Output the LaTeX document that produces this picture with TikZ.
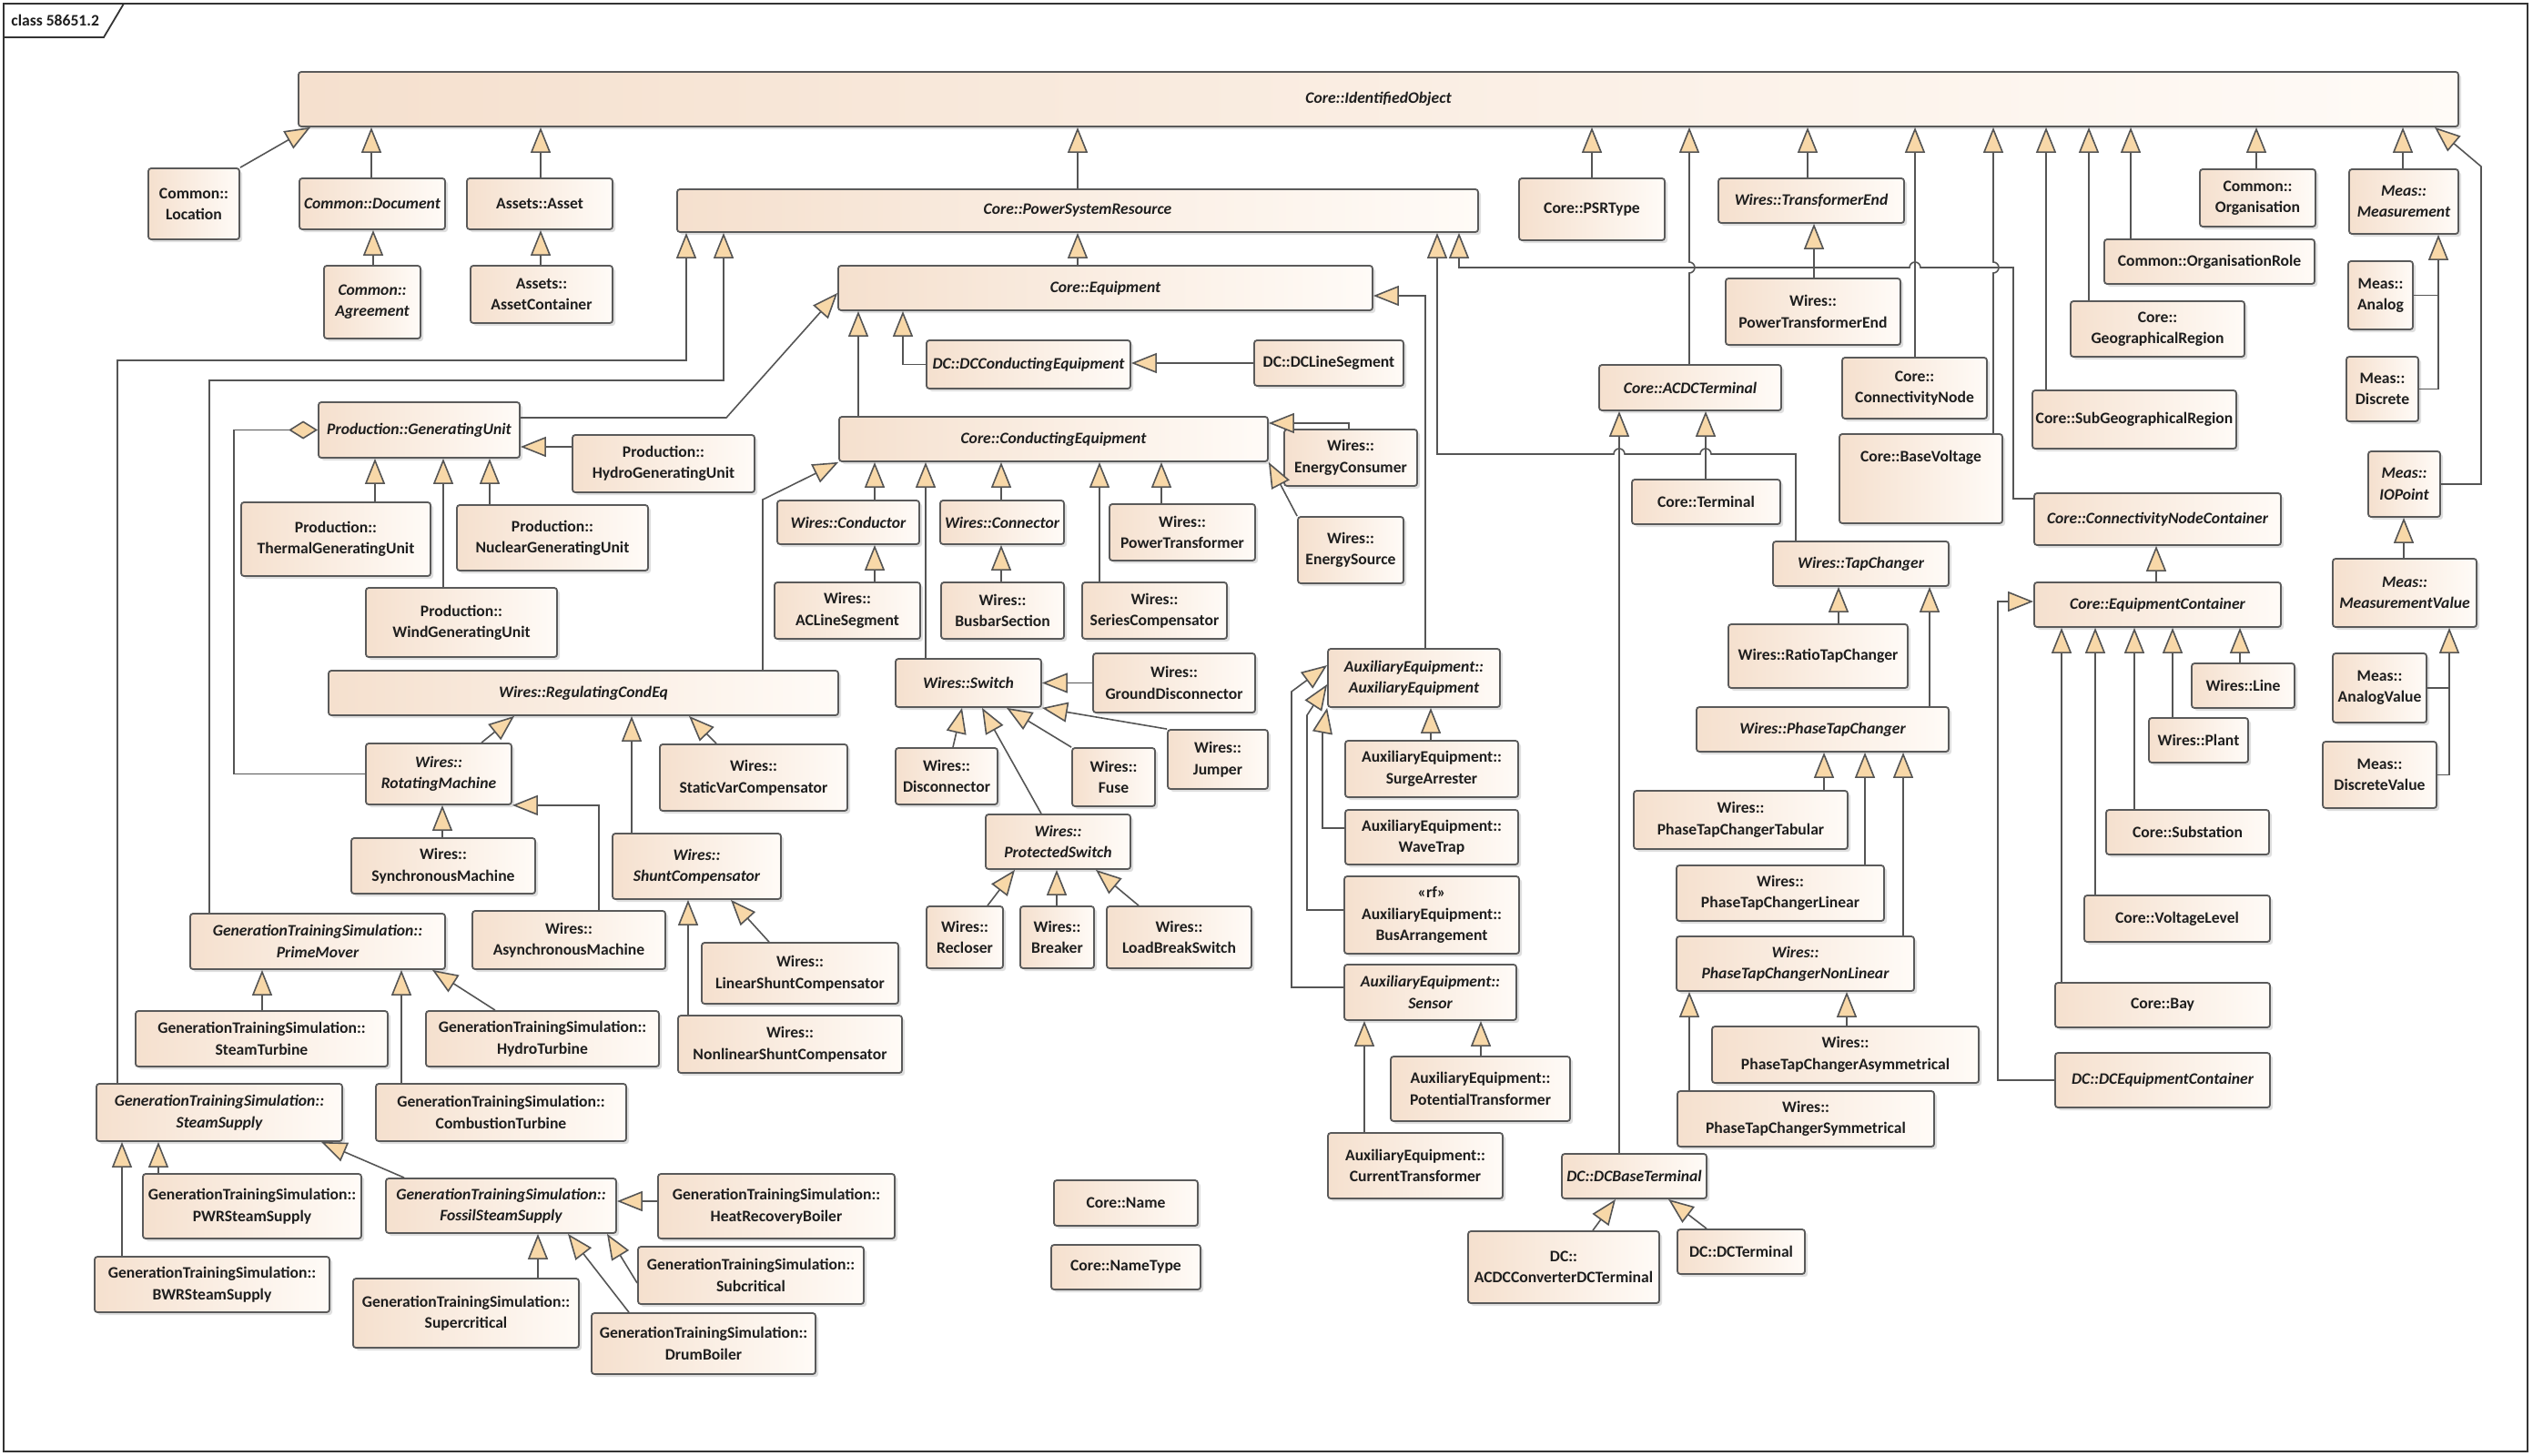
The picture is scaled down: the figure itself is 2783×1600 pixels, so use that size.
\documentclass[tikz,border=0pt]{standalone}
\usepackage{fontspec}
\setmainfont{Carlito}
\usetikzlibrary{arrows.meta,shadows}
\definecolor{linec}{RGB}{85,85,85}
\definecolor{borderc}{RGB}{90,90,90}
\definecolor{arrowc}{RGB}{248,216,168}
\definecolor{boxl}{RGB}{245,224,206}
\definecolor{boxr}{RGB}{255,251,247}
\definecolor{textc}{RGB}{30,30,30}
\tikzset{
 ubox/.style={draw=borderc, line width=0.9pt, rounded corners=1.5pt, left color=boxl, right color=boxr,
   inner sep=0pt, align=center, text=textc, font=\fontsize{8.8}{11.7}\selectfont\bfseries,
   drop shadow={shadow xshift=1.5pt, shadow yshift=-1.5pt, opacity=0.25}},
 abst/.style={font=\fontsize{8.8}{11.7}\selectfont\bfseries\itshape},
 utext/.style={inner sep=0pt, align=center, text=textc, font=\fontsize{8.8}{11.7}\selectfont\bfseries},
 gen/.style={draw=linec, line width=0.8pt, -{Triangle[length=14pt,width=11pt,fill=arrowc]}},
 agg/.style={draw=linec, line width=0.8pt, -{Diamond[length=16pt,width=10pt,fill=arrowc]}},
 plain/.style={draw=linec, line width=0.8pt},
}
\newcommand{\ubox}[7][]{\node[ubox,#1,minimum width={(#5-#3)*0.5pt},minimum height={(#6-#4)*0.5pt}] (#2) at ({(#3+#5)/2},{(#4+#6)/2}) {#7};}
\begin{document}
\begin{tikzpicture}[x=0.5pt,y=-0.5pt]
\useasboundingbox (0,0) rectangle (2783,1600);
% frame
\draw[draw=black!80, line width=1.2pt] (4,4) rectangle (2777,1595);
\draw[draw=black!80, line width=0.9pt, fill=white] (4,4) -- (136,4) -- (114,41) -- (4,41) -- cycle;
\node[utext, anchor=west] (frametitle) at (12,22) {class 58651.2};

% boxes
\ubox[abst]{io}{328}{79}{2701}{139}{Core::IdentifiedObject}
\ubox{loc}{163}{185}{263}{263}{Common::\\Location}
\ubox[abst]{doc}{329}{196}{489}{252}{Common::Document}
\ubox{asset}{513}{196}{673}{252}{Assets::Asset}
\ubox[abst]{agr}{356}{292}{462}{372}{Common::\\Agreement}
\ubox{assetc}{517}{292}{673}{355}{Assets::\\AssetContainer}
\ubox[abst]{psr}{744}{208}{1624}{255}{Core::PowerSystemResource}
\ubox[abst]{eq}{921}{292}{1508}{341}{Core::Equipment}
\ubox[abst]{dcce}{1018}{374}{1242}{427}{DC::DCConductingEquipment}
\ubox{dcls}{1378}{374}{1542}{424}{DC::DCLineSegment}
\ubox[abst]{ce}{922}{458}{1393}{507}{Core::ConductingEquipment}
\ubox[abst]{gu}{350}{442}{571}{503}{Production::GeneratingUnit}
\ubox{hydro}{629}{478}{829}{541}{Production::\\HydroGeneratingUnit}
\ubox{thermal}{265}{552}{473}{633}{Production::\\ThermalGeneratingUnit}
\ubox{nuclear}{502}{555}{712}{627}{Production::\\NuclearGeneratingUnit}
\ubox{wind}{402}{646}{612}{722}{Production::\\WindGeneratingUnit}
\ubox[abst]{rce}{361}{737}{921}{786}{Wires::RegulatingCondEq}
\ubox[abst]{rm}{402}{817}{562}{884}{Wires::\\RotatingMachine}
\ubox{sm}{386}{921}{588}{982}{Wires::\\SynchronousMachine}
\ubox{am}{519}{1001}{731}{1065}{Wires::\\AsynchronousMachine}
\ubox{svc}{725}{818}{931}{891}{Wires::\\StaticVarCompensator}
\ubox[abst]{shunt}{673}{916}{858}{988}{Wires::\\ShuntCompensator}
\ubox{lsc}{771}{1036}{987}{1103}{Wires::\\LinearShuntCompensator}
\ubox{nlsc}{745}{1116}{991}{1179}{Wires::\\NonlinearShuntCompensator}
\ubox[abst]{cond}{854}{550}{1010}{598}{Wires::Conductor}
\ubox[abst]{conn}{1033}{550}{1169}{598}{Wires::Connector}
\ubox{acls}{851}{640}{1011}{702}{Wires::\\ACLineSegment}
\ubox{busbar}{1034}{640}{1169}{702}{Wires::\\BusbarSection}
\ubox{seriesc}{1189}{640}{1348}{702}{Wires::\\SeriesCompensator}
\ubox{ptr}{1219}{554}{1379}{616}{Wires::\\PowerTransformer}
\ubox[abst]{sw}{984}{724}{1144}{777}{Wires::Switch}
\ubox{gd}{1201}{718}{1379}{783}{Wires::\\GroundDisconnector}
\ubox{disc}{984}{822}{1096}{884}{Wires::\\Disconnector}
\ubox{fuse}{1178}{822}{1269}{886}{Wires::\\Fuse}
\ubox{jump}{1283}{802}{1393}{867}{Wires::\\Jumper}
\ubox[abst]{ps}{1083}{895}{1242}{955}{Wires::\\ProtectedSwitch}
\ubox{rec}{1018}{996}{1102}{1064}{Wires::\\Recloser}
\ubox{brk}{1121}{996}{1202}{1064}{Wires::\\Breaker}
\ubox{lbs}{1216}{996}{1375}{1064}{Wires::\\LoadBreakSwitch}
\ubox{econs}{1411}{472}{1557}{534}{Wires::\\EnergyConsumer}
\ubox{es}{1426}{568}{1542}{641}{Wires::\\EnergySource}
\ubox[abst]{ae}{1459}{713}{1648}{777}{AuxiliaryEquipment::\\AuxiliaryEquipment}
\ubox{surge}{1478}{814}{1668}{876}{AuxiliaryEquipment::\\SurgeArrester}
\ubox{wt}{1478}{890}{1668}{950}{AuxiliaryEquipment::\\WaveTrap}
\ubox{ba}{1477}{963}{1669}{1048}{«rf»\\AuxiliaryEquipment::\\BusArrangement}
\ubox[abst]{sen}{1477}{1060}{1666}{1121}{AuxiliaryEquipment::\\Sensor}
\ubox{ptf}{1528}{1161}{1725}{1232}{AuxiliaryEquipment::\\PotentialTransformer}
\ubox{ctf}{1459}{1245}{1651}{1317}{AuxiliaryEquipment::\\CurrentTransformer}
\ubox{psrt}{1669}{196}{1829}{264}{Core::PSRType}
\ubox[abst]{acdct}{1757}{401}{1957}{451}{Core::ACDCTerminal}
\ubox{term}{1793}{527}{1956}{576}{Core::Terminal}
\ubox[abst]{dcbt}{1716}{1268}{1875}{1317}{DC::DCBaseTerminal}
\ubox{acdcc}{1613}{1353}{1823}{1432}{DC::\\ACDCConverterDCTerminal}
\ubox{dct}{1843}{1351}{1983}{1400}{DC::DCTerminal}
\ubox[abst]{te}{1888}{196}{2092}{245}{Wires::TransformerEnd}
\ubox{pte}{1896}{306}{2088}{379}{Wires::\\PowerTransformerEnd}
\ubox{cn}{2024}{393}{2183}{460}{Core::\\ConnectivityNode}
\ubox{bv}{2021}{477}{2200}{575}{}
\node[utext] (bvt) at ({(2021+2200)/2},503) {Core::BaseVoltage};
\ubox{gr}{2275}{331}{2466}{392}{Core::\\GeographicalRegion}
\ubox{sgr}{2233}{429}{2457}{493}{Core::SubGeographicalRegion}
\ubox{orgr}{2312}{263}{2543}{312}{Common::OrganisationRole}
\ubox{org}{2417}{186}{2544}{249}{Common::\\Organisation}
\ubox[abst]{meas}{2581}{186}{2701}{257}{Meas::\\Measurement}
\ubox{analog}{2580}{287}{2651}{362}{Meas::\\Analog}
\ubox{discrete}{2578}{392}{2657}{463}{Meas::\\Discrete}
\ubox[abst]{iop}{2602}{496}{2681}{568}{Meas::\\IOPoint}
\ubox[abst]{mv}{2563}{614}{2721}{689}{Meas::\\MeasurementValue}
\ubox{av}{2563}{718}{2666}{794}{Meas::\\AnalogValue}
\ubox{dv}{2552}{815}{2677}{888}{Meas::\\DiscreteValue}
\ubox[abst]{cnc}{2235}{542}{2506}{599}{Core::ConnectivityNodeContainer}
\ubox[abst]{eqc}{2235}{640}{2506}{689}{Core::EquipmentContainer}
\ubox{wline}{2408}{729}{2521}{778}{Wires::Line}
\ubox{plant}{2361}{789}{2470}{838}{Wires::Plant}
\ubox{subst}{2314}{890}{2493}{939}{Core::Substation}
\ubox{vl}{2290}{984}{2494}{1035}{Core::VoltageLevel}
\ubox{bay}{2258}{1080}{2494}{1129}{Core::Bay}
\ubox[abst]{dcec}{2258}{1157}{2494}{1217}{DC::DCEquipmentContainer}
\ubox[abst]{tc}{1948}{595}{2141}{644}{Wires::TapChanger}
\ubox{rtc}{1899}{686}{2096}{756}{Wires::RatioTapChanger}
\ubox[abst]{ptc}{1864}{777}{2141}{826}{Wires::PhaseTapChanger}
\ubox{ptct}{1795}{869}{2030}{933}{Wires::\\PhaseTapChangerTabular}
\ubox{ptcl}{1842}{951}{2070}{1012}{Wires::\\PhaseTapChangerLinear}
\ubox[abst]{ptcnl}{1842}{1029}{2103}{1089}{Wires::\\PhaseTapChangerNonLinear}
\ubox{ptca}{1881}{1128}{2174}{1190}{Wires::\\PhaseTapChangerAsymmetrical}
\ubox{ptcs}{1843}{1199}{2125}{1260}{Wires::\\PhaseTapChangerSymmetrical}
\ubox[abst]{pm}{209}{1004}{489}{1065}{GenerationTrainingSimulation::\\PrimeMover}
\ubox{st}{149}{1111}{426}{1172}{GenerationTrainingSimulation::\\SteamTurbine}
\ubox{ht}{468}{1111}{724}{1172}{GenerationTrainingSimulation::\\HydroTurbine}
\ubox{comb}{413}{1191}{688}{1254}{GenerationTrainingSimulation::\\CombustionTurbine}
\ubox[abst]{ss}{106}{1191}{376}{1254}{GenerationTrainingSimulation::\\SteamSupply}
\ubox{pwr}{157}{1290}{397}{1361}{GenerationTrainingSimulation::\\PWRSteamSupply}
\ubox{bwr}{104}{1381}{362}{1442}{GenerationTrainingSimulation::\\BWRSteamSupply}
\ubox[abst]{fss}{424}{1295}{677}{1355}{GenerationTrainingSimulation::\\FossilSteamSupply}
\ubox{superc}{388}{1405}{636}{1481}{GenerationTrainingSimulation::\\Supercritical}
\ubox{drum}{650}{1443}{896}{1510}{GenerationTrainingSimulation::\\DrumBoiler}
\ubox{subc}{701}{1370}{949}{1433}{GenerationTrainingSimulation::\\Subcritical}
\ubox{hrb}{723}{1290}{983}{1361}{GenerationTrainingSimulation::\\HeatRecoveryBoiler}
\ubox{name}{1158}{1297}{1316}{1347}{Core::Name}
\ubox{namet}{1155}{1368}{1319}{1417}{Core::NameType}

% ---- connectors: IdentifiedObject
\draw[gen] (loc.north east) -- (341,0 |- io.south);
\draw[gen] (408,0 |- doc.north) -- (408,0 |- io.south);
\draw[gen] (594,0 |- asset.north) -- (594,0 |- io.south);
\draw[gen] (1184,0 |- psr.north) -- (1184,0 |- io.south);
\draw[gen] (1749,0 |- psrt.north) -- (1749,0 |- io.south);
\draw[gen] (1856,0 |- acdct.north) -- (1856,300) arc[start angle=-90,end angle=90,radius=3pt] -- (1856,0 |- io.south);
\draw[gen] (1986,0 |- te.north) -- (1986,0 |- io.south);
\draw[gen] (2104,0 |- cn.north) -- (2104,0 |- io.south);
\draw[gen] (2190,0 |- bv.north) -- (2190,300) arc[start angle=-90,end angle=90,radius=3pt] -- (2190,0 |- io.south);
\draw[gen] (2248,0 |- sgr.north) -- (2248,0 |- io.south);
\draw[gen] (2295,0 |- gr.north) -- (2295,0 |- io.south);
\draw[gen] (2341,0 |- orgr.north) -- (2341,0 |- io.south);
\draw[gen] (2479,0 |- org.north) -- (2479,0 |- io.south);
\draw[gen] (2640,0 |- meas.north) -- (2640,0 |- io.south);
\draw[gen] (iop.east) -- (2726,0 |- iop.east) -- (2726,183) -- (2675,0 |- io.south);
\draw[gen] (410,0 |- agr.north) -- (410,0 |- doc.south);
\draw[gen] (594,0 |- assetc.north) -- (594,0 |- asset.south);

% PowerSystemResource
\draw[gen] (1184,0 |- eq.north) -- (1184,0 |- psr.south);
\draw[gen] (129,0 |- ss.north) -- (129,396) -- (754,396) -- (754,0 |- psr.south);
\draw[gen] (230,0 |- pm.north) -- (230,418) -- (795,418) -- (795,0 |- psr.south);
\draw[gen] (1973,0 |- tc.north) -- (1973,499) -- (1880,499) arc[start angle=0,end angle=180,radius=3pt] -- (1785,499) arc[start angle=0,end angle=180,radius=3pt] -- (1579,499) -- (1579,0 |- psr.south);
\draw[gen] (cnc.west |- 0,548) -- (2212,548) -- (2212,294) -- (2110,294) arc[start angle=0,end angle=180,radius=3pt] -- (1603,294) -- (1603,0 |- psr.south);

% Equipment
\draw[gen] (943,0 |- ce.north) -- (943,0 |- eq.south);
\draw[gen] (dcce.west) -- (992,0 |- dcce.west) -- (992,0 |- eq.south);
\draw[gen] (gu.east |- 0,459) -- (798,459) -- (eq.west |- 0,322);
\draw[gen] (1566,0 |- ae.north) -- (1566,325) -- (eq.east |- 0,325);
\draw[gen] (dcls.west) -- (dcls.west -| dcce.east);

% ConductingEquipment
\draw[gen] (838,0 |- rce.north) -- (838,549) -- (ce.south west);
\draw[gen] (961,0 |- cond.north) -- (961,0 |- ce.south);
\draw[gen] (1100,0 |- conn.north) -- (1100,0 |- ce.south);
\draw[gen] (1017,0 |- sw.north) -- (1017,0 |- ce.south);
\draw[gen] (1208,0 |- seriesc.north) -- (1208,0 |- ce.south);
\draw[gen] (1276,0 |- ptr.north) -- (1276,0 |- ce.south);
\draw[gen] (es.north west) -- (ce.south east);
\draw[gen] (1482,0 |- econs.north) -- (1482,465) -- (ce.east |- 0,465);
\draw[gen] (961,0 |- acls.north) -- (961,0 |- cond.south);
\draw[gen] (1100,0 |- busbar.north) -- (1100,0 |- conn.south);

% Switch
\draw[gen] (gd.west) -- (gd.west -| sw.east);
\draw[gen] (1047,0 |- disc.north) -- (1057,0 |- sw.south);
\draw[gen] (fuse.north west) -- (1106,0 |- sw.south);
\draw[gen] (jump.north west) -- (sw.south east);
\draw[gen] (1144,0 |- ps.north) -- (1079,0 |- sw.south);
\draw[gen] (1085,0 |- rec.north) -- (1115,0 |- ps.south);
\draw[gen] (1161,0 |- brk.north) -- (1161,0 |- ps.south);
\draw[gen] (1251,0 |- lbs.north) -- (1204,0 |- ps.south);

% RegulatingCondEq
\draw[gen] (529,0 |- rm.north) -- (565,0 |- rce.south);
\draw[gen] (787,0 |- svc.north) -- (757,0 |- rce.south);
\draw[gen] (694,0 |- shunt.north) -- (694,0 |- rce.south);
\draw[gen] (486,0 |- sm.north) -- (486,0 |- rm.south);
\draw[gen] (658,0 |- am.north) -- (658,0 |- rm.south east) -- (rm.south east);
\draw[agg] (rm.west) -- (257,0 |- rm.west) -- (257,0 |- gu.west) -- (gu.west);
\draw[gen] (845,0 |- lsc.north) -- (803,0 |- shunt.south);
\draw[gen] (756,0 |- nlsc.north) -- (756,0 |- shunt.south);

% GeneratingUnit
\draw[gen] (412,0 |- thermal.north) -- (412,0 |- gu.south);
\draw[gen] (487,0 |- wind.north) -- (487,0 |- gu.south);
\draw[gen] (538,0 |- nuclear.north) -- (538,0 |- gu.south);
\draw[gen] (hydro.west |- 0,491) -- (gu.east |- 0,491);

% PrimeMover / SteamSupply
\draw[gen] (288,0 |- st.north) -- (288,0 |- pm.south);
\draw[gen] (544,0 |- ht.north) -- (475,0 |- pm.south);
\draw[gen] (441,0 |- comb.north) -- (441,0 |- pm.south);
\draw[gen] (174,0 |- pwr.north) -- (174,0 |- ss.south);
\draw[gen] (134,0 |- bwr.north) -- (134,0 |- ss.south);
\draw[gen] (444,0 |- fss.north) -- (353,0 |- ss.south);
\draw[gen] (591,0 |- superc.north) -- (591,0 |- fss.south);
\draw[gen] (691,0 |- drum.north) -- (624,0 |- fss.south);
\draw[gen] (subc.west |- 0,1410) -- (667,0 |- fss.south);
\draw[gen] (hrb.west |- 0,1320) -- (fss.east |- 0,1320);

% AuxiliaryEquipment
\draw[gen] (1572,0 |- surge.north) -- (1572,0 |- ae.south);
\draw[gen] (wt.west |- 0,910) -- (1453,910) -- (1453,805) -- (ae.south west);
\draw[gen] (ba.west |- 0,1000) -- (1436,1000) -- (1436,786) -- (ae.west |- 0,752);
\draw[gen] (sen.west |- 0,1085) -- (1419,1085) -- (1419,760) -- (ae.west |- 0,731);
\draw[gen] (1627,0 |- ptf.north) -- (1627,0 |- sen.south);
\draw[gen] (1499,0 |- ctf.north) -- (1499,0 |- sen.south);

% ACDCTerminal
\draw[gen] (1874,0 |- term.north) -- (1874,0 |- acdct.south);
\draw[gen] (1779,0 |- dcbt.north) -- (1779,0 |- acdct.south);
\draw[gen] (1750,0 |- acdcc.north) -- (1775,0 |- dcbt.south);
\draw[gen] (1875,0 |- dct.north) -- (1833,0 |- dcbt.south);

% TransformerEnd
\draw[gen] (1993,0 |- pte.north) -- (1993,0 |- te.south);

% Measurement
\draw[gen] (analog.east) -- (2679,0 |- analog.east) -- (2679,0 |- meas.south);
\draw[plain] (discrete.east) -- (2679,0 |- discrete.east) -- (2679,0 |- analog.east);
\draw[gen] (2641,0 |- mv.north) -- (2641,0 |- iop.south);
\draw[gen] (av.east) -- (2691,0 |- av.east) -- (2691,0 |- mv.south);
\draw[plain] (dv.east) -- (2691,0 |- dv.east) -- (2691,0 |- av.east);

% EquipmentContainer
\draw[gen] (2369,0 |- eqc.north) -- (2369,0 |- cnc.south);
\draw[gen] (2461,0 |- wline.north) -- (2461,0 |- eqc.south);
\draw[gen] (2387,0 |- plant.north) -- (2387,0 |- eqc.south);
\draw[gen] (2345,0 |- subst.north) -- (2345,0 |- eqc.south);
\draw[gen] (2302,0 |- vl.north) -- (2302,0 |- eqc.south);
\draw[gen] (2265,0 |- bay.north) -- (2265,0 |- eqc.south);
\draw[gen] (dcec.west) -- (2195,0 |- dcec.west) -- (2195,661) -- (eqc.west |- 0,661);

% TapChanger
\draw[gen] (2020,0 |- rtc.north) -- (2020,0 |- tc.south);
\draw[gen] (2120,0 |- ptc.north) -- (2120,0 |- tc.south);
\draw[gen] (2004,0 |- ptct.north) -- (2004,0 |- ptc.south);
\draw[gen] (2049,0 |- ptcl.north) -- (2049,0 |- ptc.south);
\draw[gen] (2091,0 |- ptcnl.north) -- (2091,0 |- ptc.south);
\draw[gen] (2029,0 |- ptca.north) -- (2029,0 |- ptcnl.south);
\draw[gen] (1856,0 |- ptcs.north) -- (1856,0 |- ptcnl.south);
\end{tikzpicture}
\end{document}
